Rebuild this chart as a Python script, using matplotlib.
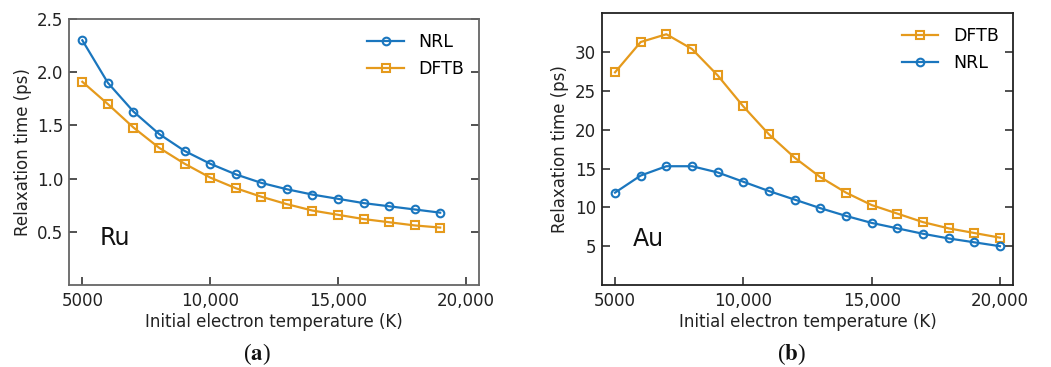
import matplotlib
matplotlib.use("Agg")
import matplotlib.pyplot as plt

# Initial electron temperatures (K)
temps_ru = [5000, 6000, 7000, 8000, 9000, 10000, 11000, 12000, 13000,
            14000, 15000, 16000, 17000, 18000, 19000]
temps_au = temps_ru + [20000]

# Relaxation times (ps)
ru_nrl = [2.30, 1.90, 1.63, 1.42, 1.26, 1.14, 1.04, 0.96, 0.90,
          0.85, 0.81, 0.77, 0.74, 0.71, 0.68]
ru_dftb = [1.91, 1.70, 1.48, 1.29, 1.14, 1.01, 0.91, 0.83, 0.76,
           0.70, 0.66, 0.62, 0.59, 0.56, 0.54]
au_dftb = [27.4, 31.3, 32.3, 30.4, 27.0, 23.0, 19.4, 16.4, 13.9,
           11.9, 10.3, 9.2, 8.1, 7.3, 6.7, 6.1]
au_nrl = [11.9, 14.1, 15.3, 15.3, 14.5, 13.3, 12.1, 11.0, 9.9,
          8.9, 8.0, 7.3, 6.6, 6.0, 5.5, 5.0]

xticks = [5000, 10000, 15000, 20000]
xticklabels = ["5000", "10,000", "15,000", "20,000"]

BLUE = "#1a76be"
ORANGE = "#e59a1c"

plt.rcParams["font.family"] = "DejaVu Sans"
plt.rcParams["mathtext.fontset"] = "stix"

fig = plt.figure(figsize=(10.51, 3.67), dpi=100)
ax1 = fig.add_axes([0.0657, 0.2234, 0.3901, 0.7248])
ax2 = fig.add_axes([0.5725, 0.2234, 0.3916, 0.7404])

line_kw = dict(lw=1.6, ms=5.5, mew=1.5, mfc="none")
legend_kw = dict(loc="upper right", frameon=False, fontsize=12.5, handlelength=2.1,
                 handletextpad=0.85, labelspacing=0.5, borderaxespad=0.6,
                 bbox_to_anchor=(1.007, 1.012))


def style(ax, spine_color):
    ax.set_xlim(4480, 20520)
    ax.set_xticks(xticks)
    ax.set_xticklabels(xticklabels)
    ax.tick_params(axis="both", direction="in", length=6, width=1.2,
                   labelsize=12, colors="#333333", labelcolor="#222222")
    ax.tick_params(axis="y", right=True, pad=4)
    ax.tick_params(axis="x", pad=5)
    for s in ax.spines.values():
        s.set_color(spine_color)
        s.set_linewidth(1.3)
    ax.set_xlabel("Initial electron temperature (K)", fontsize=12, color="#222222", labelpad=2)
    ax.set_ylabel("Relaxation time (ps)", fontsize=12, color="#222222", labelpad=4)


# (a) Ru
ax1.plot(temps_ru, ru_nrl, marker="o", color=BLUE, label="NRL", **line_kw)
ax1.plot(temps_ru, ru_dftb, marker="s", color=ORANGE, label="DFTB", **line_kw)
ax1.set_ylim(0, 2.5)
ax1.set_yticks([0.5, 1.0, 1.5, 2.0, 2.5])
style(ax1, "#666666")
ax1.text(0.075, 0.15, "Ru", transform=ax1.transAxes, fontsize=17, color="#111111")
ax1.legend(**legend_kw)

# (b) Au
ax2.plot(temps_au, au_dftb, marker="s", color=ORANGE, label="DFTB", **line_kw)
ax2.plot(temps_au, au_nrl, marker="o", color=BLUE, label="NRL", **line_kw)
ax2.set_ylim(0, 35)
ax2.set_yticks([5, 10, 15, 20, 25, 30])
style(ax2, "#222222")
ax2.text(0.075, 0.145, "Au", transform=ax2.transAxes, fontsize=17, color="#111111")
ax2.legend(**legend_kw)

# panel captions
for x, letter in [(0.244, "a"), (0.753, "b")]:
    fig.text(x, 0.018, r"($\mathbf{%s}$)" % letter, ha="center", va="baseline",
             fontsize=16.5, family="Liberation Serif", color="#111111")

fig.savefig("out.png", dpi=100)
